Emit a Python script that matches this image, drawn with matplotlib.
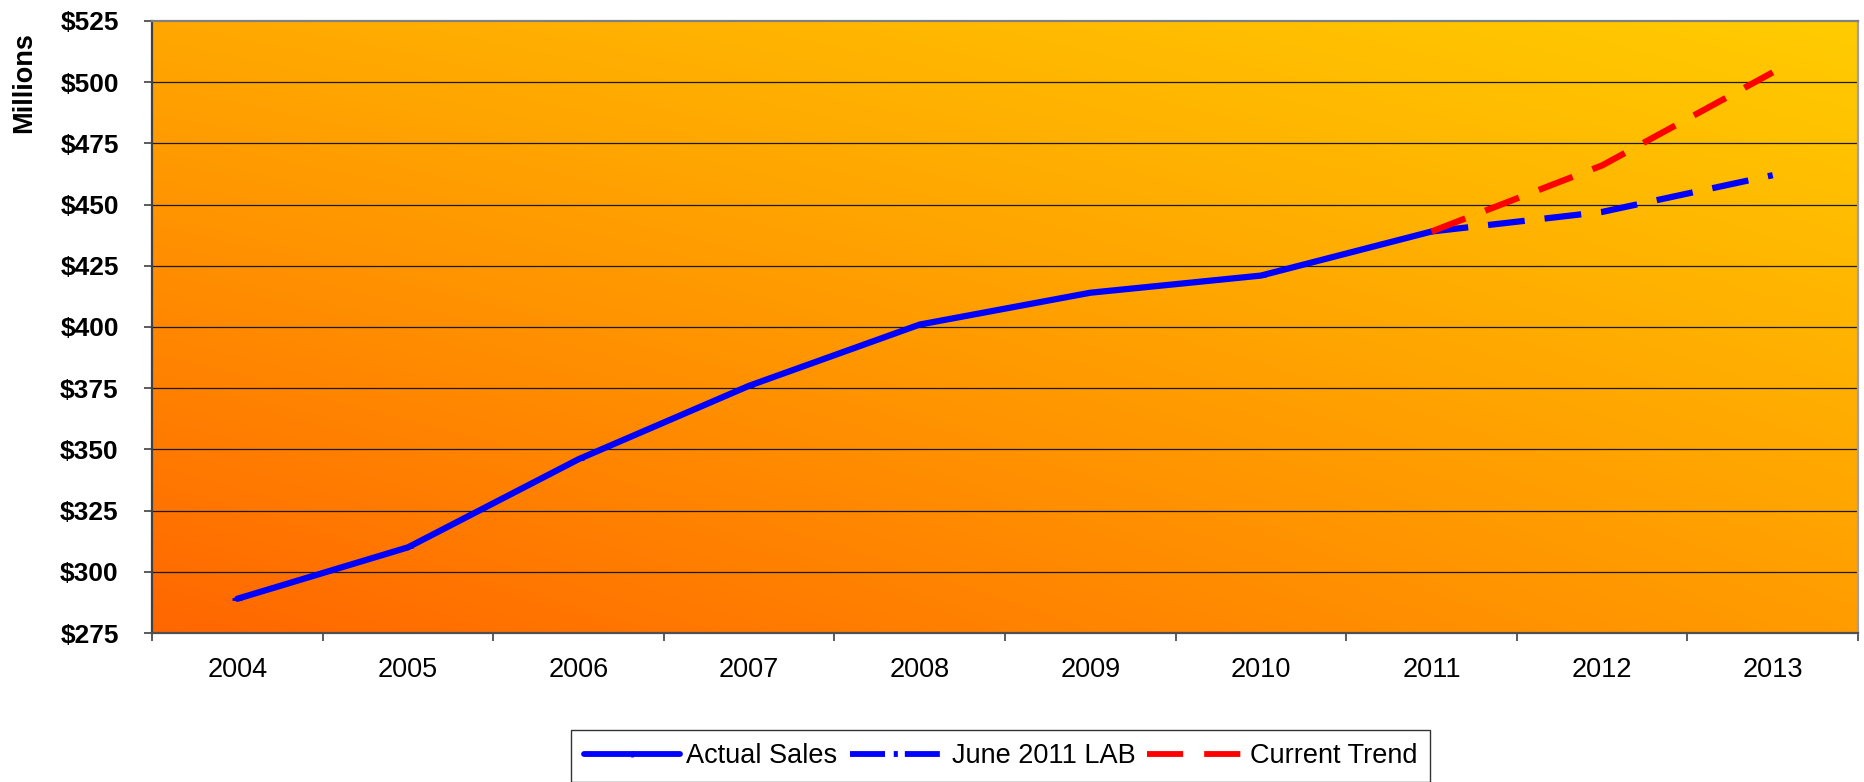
"""Sales history with two forward projections (2011-2013)."""
import numpy as np
import matplotlib.pyplot as plt
from matplotlib.lines import Line2D

plt.rcParams["font.family"] = ["Liberation Sans", "DejaVu Sans"]

# Annual sales, $ millions
years = ["2004", "2005", "2006", "2007", "2008", "2009", "2010", "2011", "2012", "2013"]
actual_sales = [289, 310, 346, 376, 401, 414, 421, 439]
lab_forecast = [439, 447, 462]      # June 2011 LAB, 2011-2013
trend_forecast = [439, 466, 504]    # current trend, 2011-2013
y_ticks = [275, 300, 325, 350, 375, 400, 425, 450, 475, 500, 525]

fig = plt.figure(figsize=(18.64, 7.82), dpi=100)
ax = fig.add_axes([0.0816, 0.1905, 0.9152, 0.7827])

x = np.arange(len(years))
ax.set_xlim(-0.5, len(years) - 0.5)
ax.set_ylim(y_ticks[0], y_ticks[-1])

# diagonal orange -> yellow fill behind the plot area
gx, gy = np.meshgrid(np.linspace(0, 1, 300), np.linspace(0, 1, 300))
g_bl, g_br, g_tl, g_tr = 102, 156, 168, 204
green = (g_bl * (1 - gx) * (1 - gy) + g_br * gx * (1 - gy)
         + g_tl * (1 - gx) * gy + g_tr * gx * gy) / 255.0
rgb = np.dstack([np.ones_like(green), green, np.zeros_like(green)])
ax.imshow(rgb, extent=[-0.5, len(years) - 0.5, y_ticks[0], y_ticks[-1]],
          origin="lower", aspect="auto", interpolation="bilinear", zorder=0)

for v in y_ticks[1:-1]:
    ax.axhline(v, color="#1a1a1a", lw=0.9, zorder=1)

n_act = len(actual_sales)
fx = x[n_act - 1:]
ax.plot(x[:n_act], actual_sales, color="#0000ff", lw=4.5, marker="_",
        ms=7, mew=2, solid_capstyle="round", zorder=3)
ax.plot(fx, lab_forecast, color="#0000ff", lw=4.5,
        linestyle=(0, (5.9, 3.2)), zorder=3)
ax.plot(fx, trend_forecast, color="#ff0000", lw=4.5,
        linestyle=(0, (5.8, 3.4)), zorder=4)

# y axis
ax.set_yticks(y_ticks)
ax.set_yticklabels([f"${v}" for v in y_ticks], fontsize=19, fontweight="bold")
ax.tick_params(axis="y", length=6, width=1.2, color="#404040", pad=18)

# x axis: ticks on category edges, labels centred
ax.set_xticks(np.arange(-0.5, len(years), 1))
ax.set_xticklabels([])
ax.set_xticks(x, minor=True)
ax.set_xticklabels(years, minor=True, fontsize=19.5)
ax.tick_params(axis="x", which="major", length=6, width=1.2, color="#404040")
ax.tick_params(axis="x", which="minor", length=0, pad=17)

for side, col in [("left", "#404040"), ("bottom", "#505050"),
                  ("top", "#808080"), ("right", "#a0a0a0")]:
    ax.spines[side].set_color(col)
    ax.spines[side].set_linewidth(1.6)

fig.text(24 / 1864, 1 - 83 / 782, "Millions", rotation=90, ha="center",
         va="center", fontsize=19.5, fontweight="bold")

handles = [
    Line2D([], [], color="#0000ff", lw=4.2, marker="|", ms=5, mew=2,
           markevery=[1], solid_capstyle="round"),
    Line2D([], [], color="#0000ff", lw=4.2, linestyle=(0, (6.0, 1.5, 0.7, 1.2))),
    Line2D([], [], color="#ff0000", lw=4.2, linestyle=(0, (6.2, 3.6))),
]
leg = fig.legend(handles, ["Actual Sales", "June 2011 LAB", "Current Trend"],
                 loc="upper center", bbox_to_anchor=(0.5368, 1 - 730 / 782),
                 ncol=3, frameon=True, fancybox=False, edgecolor="black",
                 fontsize=19.5, handlelength=3.55, handletextpad=0.22,
                 columnspacing=0.45, borderpad=0.48, borderaxespad=0)
leg.get_frame().set_linewidth(1.0)

fig.savefig("out.png", dpi=100)
